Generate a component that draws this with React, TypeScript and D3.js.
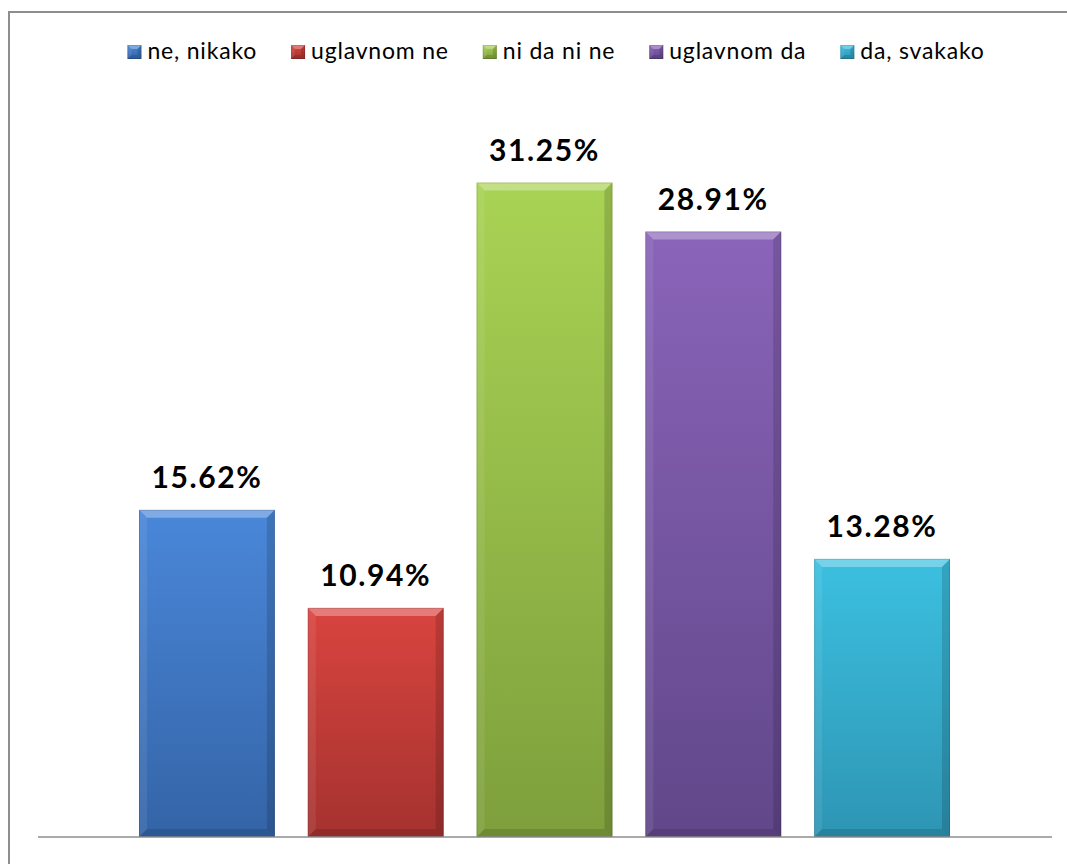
import React, { useEffect, useRef } from "react";
import * as d3 from "d3";

const categories = ["ne, nikako", "uglavnom ne", "ni da ni ne", "uglavnom da", "da, svakako"];
const percentValues = [15.62, 10.94, 31.25, 28.91, 13.28];
const topColors = ["#4a87d9", "#d9443f", "#a9d354", "#8a64b9", "#3cc0e0"];
const bottomColors = ["#3464a7", "#a5322f", "#7e9f3c", "#61478a", "#2e95b4"];

const App: React.FC = () => {
  const svgRef = useRef<SVGSVGElement | null>(null);

  useEffect(() => {
    drawChart();
  }, []);

  const drawChart = () => {
    const svg = d3.select(svgRef.current);
    svg.selectAll("*").remove();

    const width = 1067;
    const height = 864;
    const font = "Lato, 'Open Sans', sans-serif";

    const axisLeft = 38;
    const axisRight = 1052;
    const baseline = 837;

    const x = d3
      .scaleBand<string>()
      .domain(categories)
      .range([139, 950])
      .paddingInner(0.195)
      .paddingOuter(0);

    const y = d3.scaleLinear().domain([0, 35]).range([baseline, 104]);

    const defs = svg.append("defs");
    categories.forEach((c, i) => {
      const grad = defs
        .append("linearGradient")
        .attr("id", `grad${i}`)
        .attr("x1", 0)
        .attr("y1", 0)
        .attr("x2", 0)
        .attr("y2", 1);
      grad.append("stop").attr("offset", "0%").attr("stop-color", topColors[i]);
      grad.append("stop").attr("offset", "100%").attr("stop-color", bottomColors[i]);
    });

    // chart frame
    svg
      .append("rect")
      .attr("x", 9)
      .attr("y", 12)
      .attr("width", width + 20)
      .attr("height", height + 20)
      .attr("fill", "white")
      .attr("stroke", "#8e8e8e")
      .attr("stroke-width", 2);

    // bevelled box helper
    const bevelBox = (
      g: d3.Selection<SVGGElement, unknown, null, undefined>,
      bx: number,
      by: number,
      bw: number,
      bh: number,
      i: number,
      b: number
    ) => {
      g.append("rect")
        .attr("x", bx)
        .attr("y", by)
        .attr("width", bw)
        .attr("height", bh)
        .attr("fill", `url(#grad${i})`);
      const poly = (pts: [number, number][], fill: string, op: number) =>
        g
          .append("polygon")
          .attr("points", pts.map((p) => p.join(",")).join(" "))
          .attr("fill", fill)
          .attr("opacity", op);
      const bt = Math.min(b, bh / 2);
      poly(
        [
          [bx, by],
          [bx + bw, by],
          [bx + bw - bt, by + bt],
          [bx + bt, by + bt],
        ],
        "white",
        0.3
      );
      poly(
        [
          [bx, by],
          [bx + bt, by + bt],
          [bx + bt, by + bh - bt],
          [bx, by + bh],
        ],
        "white",
        0.08
      );
      poly(
        [
          [bx + bw, by],
          [bx + bw - bt, by + bt],
          [bx + bw - bt, by + bh - bt],
          [bx + bw, by + bh],
        ],
        "black",
        0.14
      );
      poly(
        [
          [bx, by + bh],
          [bx + bt, by + bh - bt],
          [bx + bw - bt, by + bh - bt],
          [bx + bw, by + bh],
        ],
        "black",
        0.12
      );
      g.append("rect")
        .attr("x", bx + 0.5)
        .attr("y", by + 0.5)
        .attr("width", bw - 1)
        .attr("height", bh - 1)
        .attr("fill", "none")
        .attr("stroke", "black")
        .attr("stroke-opacity", 0.12);
    };

    // bars
    const bars = svg.append("g");
    categories.forEach((c, i) => {
      const g = bars.append("g");
      const bx = x(c) || 0;
      const by = y(percentValues[i]);
      bevelBox(g, bx, by, x.bandwidth(), baseline - by, i, 8);
    });

    // baseline
    svg
      .append("line")
      .attr("x1", axisLeft)
      .attr("x2", axisRight)
      .attr("y1", baseline)
      .attr("y2", baseline)
      .attr("stroke", "#8e8e8e")
      .attr("stroke-width", 1.5);

    // data labels
    svg
      .append("g")
      .selectAll("text")
      .data(categories)
      .enter()
      .append("text")
      .attr("x", (d) => (x(d) || 0) + x.bandwidth() / 2)
      .attr("y", (d, i) => y(percentValues[i]) - 22)
      .attr("text-anchor", "middle")
      .attr("font-family", font)
      .attr("font-weight", "bold")
      .attr("font-size", 30)
      .attr("letter-spacing", 1.6)
      .attr("fill", "black")
      .text((d, i) => `${percentValues[i].toFixed(2)}%`);

    // legend
    const legend = svg.append("g");
    const markerSize = 14;
    const markerGap = 6;
    const itemGap = 34;
    const items = categories.map((c, i) => {
      const g = legend.append("g");
      const t = g
        .append("text")
        .attr("font-family", font)
        .attr("font-size", 23)
        .attr("letter-spacing", 0.8)
        .attr("fill", "black")
        .attr("y", 59)
        .text(c);
      const tw = (t.node() as SVGTextElement).getComputedTextLength();
      return { g, t, tw, i };
    });
    const total =
      d3.sum(items, (d) => markerSize + markerGap + d.tw) + itemGap * (items.length - 1);
    let cx = 556 - total / 2;
    items.forEach((d) => {
      bevelBox(d.g, cx, 45, markerSize, markerSize, d.i, 4);
      d.t.attr("x", cx + markerSize + markerGap);
      cx += markerSize + markerGap + d.tw + itemGap;
    });
  };

  return (
    <svg
      ref={svgRef}
      width="1067"
      height="864"
      style={{ position: "absolute", left: 0, top: 0 }}
    ></svg>
  );
};

export default App;
